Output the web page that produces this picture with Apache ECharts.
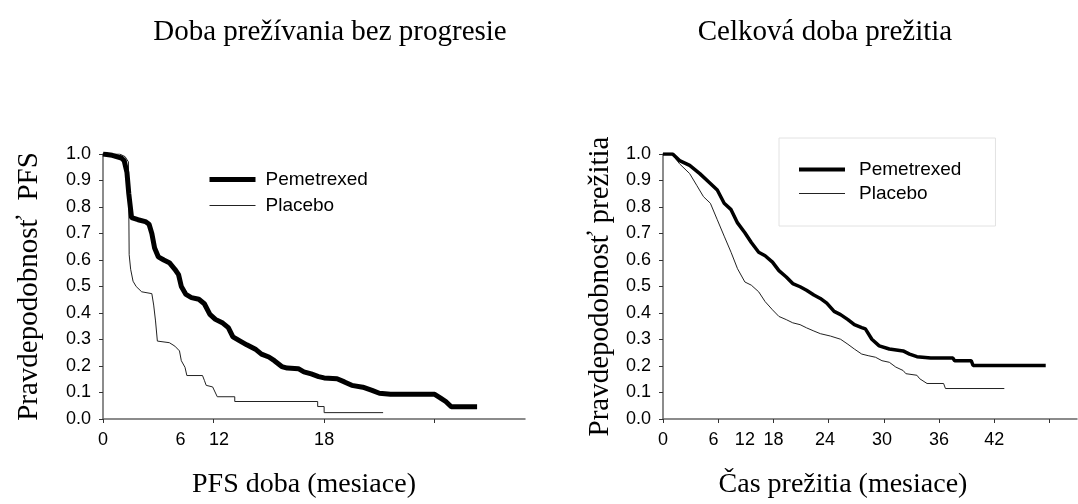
<!DOCTYPE html>
<html>
<head>
<meta charset="utf-8">
<script src="https://cdn.jsdelivr.net/npm/echarts@6/dist/echarts.min.js"></script>
<style>
  html, body { margin: 0; padding: 0; background: #fff; }
  #chart { width: 1078px; height: 504px; }
</style>
</head>
<body>
<div id="chart"></div>
<script>
// Doba prezivania bez progresie (mesiace, pravdepodobnost)
const pfsPemTime = [0, 0.5, 1.0, 1.15, 1.3, 1.4, 1.55, 1.9, 2.3, 2.5, 2.65, 2.8, 3.0, 3.3, 3.6, 3.9, 4.1, 4.25, 4.5, 4.8, 5.2, 5.5, 5.8, 6.1, 6.5, 6.8, 7.05, 7.4, 7.8, 8.3, 8.6, 9.0, 9.3, 9.7, 10.0, 10.6, 10.9, 11.3, 11.7, 12.0, 12.7, 13.1, 13.5, 14.1, 14.6, 15.0, 15.6, 18.0, 18.3, 18.6, 18.9, 20.3];
const pfsPemSurv = [1.0, 0.995, 0.985, 0.975, 0.93, 0.85, 0.76, 0.752, 0.745, 0.735, 0.70, 0.645, 0.612, 0.60, 0.59, 0.565, 0.545, 0.50, 0.47, 0.458, 0.452, 0.435, 0.395, 0.376, 0.362, 0.345, 0.31, 0.296, 0.28, 0.262, 0.245, 0.234, 0.22, 0.198, 0.192, 0.19, 0.178, 0.17, 0.16, 0.155, 0.152, 0.14, 0.127, 0.12, 0.108, 0.097, 0.093, 0.093, 0.08, 0.066, 0.046, 0.046];
const pfsPlaTime = [0, 0.9, 1.2, 1.38, 1.42, 1.5, 1.63, 1.8, 2.1, 2.65, 2.75, 2.85, 2.95, 3.6, 3.9, 4.15, 4.25, 4.45, 4.55, 5.4, 5.5, 5.6, 5.95, 6.2, 7.15, 7.15, 11.65, 11.65, 12.0, 12.0, 15.2];
const pfsPlaSurv = [1.0, 1.0, 0.99, 0.97, 0.62, 0.565, 0.52, 0.5, 0.48, 0.473, 0.43, 0.37, 0.294, 0.288, 0.275, 0.257, 0.22, 0.195, 0.164, 0.164, 0.146, 0.127, 0.121, 0.084, 0.084, 0.066, 0.066, 0.047, 0.047, 0.024, 0.024];

// Celkova doba prezitia
const osPemTime = [0, 1.05, 1.8, 2.9, 4.0, 5.15, 5.9, 6.65, 7.4, 8.1, 8.9, 9.6, 10.4, 11.1, 11.9, 12.6, 13.4, 14.1, 14.9, 15.6, 16.4, 17.1, 17.8, 18.6, 19.3, 20.1, 20.8, 21.6, 22.0, 22.7, 23.5, 24.6, 26.1, 26.8, 27.6, 29.1, 31.5, 31.7, 33.5, 33.7, 41.6];
const osPemSurv = [1.0, 1.0, 0.975, 0.957, 0.926, 0.889, 0.864, 0.814, 0.79, 0.74, 0.703, 0.666, 0.629, 0.616, 0.592, 0.56, 0.536, 0.511, 0.499, 0.486, 0.468, 0.455, 0.437, 0.406, 0.394, 0.375, 0.356, 0.345, 0.34, 0.301, 0.276, 0.264, 0.257, 0.245, 0.235, 0.23, 0.23, 0.22, 0.22, 0.202, 0.202];
const osPlaTime = [0, 1.05, 1.8, 2.9, 3.66, 4.4, 5.15, 5.9, 6.65, 7.4, 8.1, 8.9, 9.6, 10.4, 11.1, 11.9, 12.6, 13.4, 14.1, 14.9, 15.6, 16.4, 17.1, 18.2, 19.3, 20.1, 20.8, 21.6, 22.3, 23.1, 23.8, 24.6, 25.3, 26.1, 26.4, 27.6, 27.9, 28.7, 30.5, 30.7, 37.1];
const osPlaSurv = [1.0, 0.997, 0.963, 0.926, 0.882, 0.839, 0.814, 0.752, 0.69, 0.629, 0.567, 0.517, 0.505, 0.48, 0.443, 0.412, 0.387, 0.375, 0.363, 0.356, 0.344, 0.332, 0.322, 0.313, 0.301, 0.282, 0.264, 0.245, 0.239, 0.233, 0.22, 0.214, 0.196, 0.183, 0.171, 0.165, 0.152, 0.134, 0.134, 0.115, 0.115];

// ticks and the (shifted) labels as they sit under the axis
const pfsTicks = [0, 6, 12, 18];
const pfsLabelAt = [0, 4.2, 6.3, 12];
const pfsLabels = ['0', '6', '12', '18'];
const osTicks = [0, 6, 12, 18, 24, 30, 36, 42];
const osLabelAt = [0, 5.5, 8.9, 12, 17.6, 23.8, 30, 36];
const osLabels = ['0', '6', '12', '18', '24', '30', '36', '42'];

const serif = '"Liberation Serif", "Times New Roman", serif';
const sans = '"Liberation Sans", Arial, sans-serif';

function pairs(xs, ys) {
  return xs.map((x, i) => [x, ys[i]]);
}

function yAxisFor(gridIndex, name, gap) {
  return {
    gridIndex: gridIndex,
    type: 'value',
    min: 0,
    max: 1,
    interval: 0.1,
    name: name,
    nameLocation: 'middle',
    nameGap: gap,
    nameTextStyle: { fontFamily: serif, fontSize: 29, color: '#000' },
    splitLine: { show: false },
    axisLine: { show: true, lineStyle: { color: '#666', width: 1.5 } },
    axisTick: { show: true, length: 4, lineStyle: { color: '#333' } },
    axisLabel: {
      margin: 12,
      fontFamily: sans,
      fontSize: 18,
      color: '#000',
      formatter: (v) => v.toFixed(1)
    }
  };
}

function xAxisFor(gridIndex, max, ticks, labelAt, labels, name, pad) {
  return {
    gridIndex: gridIndex,
    type: 'value',
    min: 0,
    max: max,
    name: name,
    nameLocation: 'middle',
    nameGap: 52,
    nameTextStyle: { fontFamily: serif, fontSize: 28, color: '#000', padding: pad },
    splitLine: { show: false },
    axisLine: { show: true, lineStyle: { color: '#666', width: 1.5 } },
    axisTick: { show: true, length: 4, customValues: ticks, lineStyle: { color: '#333' } },
    axisLabel: {
      customValues: labelAt,
      margin: 12,
      fontFamily: sans,
      fontSize: 18,
      color: '#000',
      formatter: (v) => labels[labelAt.indexOf(v)]
    }
  };
}

function legendItems(thick) {
  return [
    { name: 'Pemetrexed', lineStyle: { width: thick, color: '#000' } },
    { name: 'Placebo', lineStyle: { width: 1, color: '#222' } }
  ];
}

const chart = echarts.init(document.getElementById('chart'));
chart.setOption({
  animation: false,
  backgroundColor: '#fff',
  title: [
    { text: 'Doba prežívania bez progresie', left: 325, top: 13, textAlign: 'center',
      textStyle: { fontFamily: serif, fontSize: 29, fontWeight: 'normal', color: '#000' } },
    { text: 'Celková doba prežitia', left: 820, top: 13, textAlign: 'center',
      textStyle: { fontFamily: serif, fontSize: 29, fontWeight: 'normal', color: '#000' } }
  ],
  legend: [
    {
      data: legendItems(5),
      orient: 'vertical',
      left: 207,
      top: 170,
      padding: 0,
      itemWidth: 46,
      itemHeight: 14,
      itemGap: 7,
      selectedMode: false,
      itemStyle: { opacity: 0 },
      textStyle: { fontFamily: sans, fontSize: 19, color: '#000', padding: [0, 0, 0, 5] }
    },
    {
      data: legendItems(4),
      orient: 'vertical',
      left: 779,
      top: 138,
      padding: [22, 34, 23, 18],
      borderColor: '#e2e2e2',
      borderWidth: 1,
      itemWidth: 46,
      itemHeight: 14,
      itemGap: 5,
      selectedMode: false,
      itemStyle: { opacity: 0 },
      textStyle: { fontFamily: sans, fontSize: 19, color: '#000', padding: [0, 0, 0, 9] }
    }
  ],
  grid: [
    { left: 103, top: 154, width: 422, height: 269 },
    { left: 663, top: 154, width: 414, height: 269 }
  ],
  xAxis: [
    xAxisFor(0, 22.9, pfsTicks, pfsLabelAt, pfsLabels, 'PFS doba (mesiace)', [0, 20, 0, 0]),
    xAxisFor(1, 45, osTicks, osLabelAt, osLabels, 'Čas prežitia (mesiace)', [0, 54, 0, 0])
  ],
  yAxis: [
    yAxisFor(0, 'Pravdepodobnosť  PFS', 59),
    yAxisFor(1, 'Pravdepodobnosť prežitia', 48)
  ],
  series: [
    { name: 'Pemetrexed', type: 'line', xAxisIndex: 0, yAxisIndex: 0, symbol: 'none',
      data: pairs(pfsPemTime, pfsPemSurv), lineStyle: { color: '#000', width: 5 }, itemStyle: { color: '#000' }, z: 3 },
    { name: 'Placebo', type: 'line', xAxisIndex: 0, yAxisIndex: 0, symbol: 'none',
      data: pairs(pfsPlaTime, pfsPlaSurv), lineStyle: { color: '#222', width: 1 }, itemStyle: { color: '#222' }, z: 2 },
    { name: 'Pemetrexed', type: 'line', xAxisIndex: 1, yAxisIndex: 1, symbol: 'none',
      data: pairs(osPemTime, osPemSurv), lineStyle: { color: '#000', width: 3.5 }, itemStyle: { color: '#000' }, z: 3 },
    { name: 'Placebo', type: 'line', xAxisIndex: 1, yAxisIndex: 1, symbol: 'none',
      data: pairs(osPlaTime, osPlaSurv), lineStyle: { color: '#222', width: 1 }, itemStyle: { color: '#222' }, z: 2 }
  ]
});
</script>
</body>
</html>
